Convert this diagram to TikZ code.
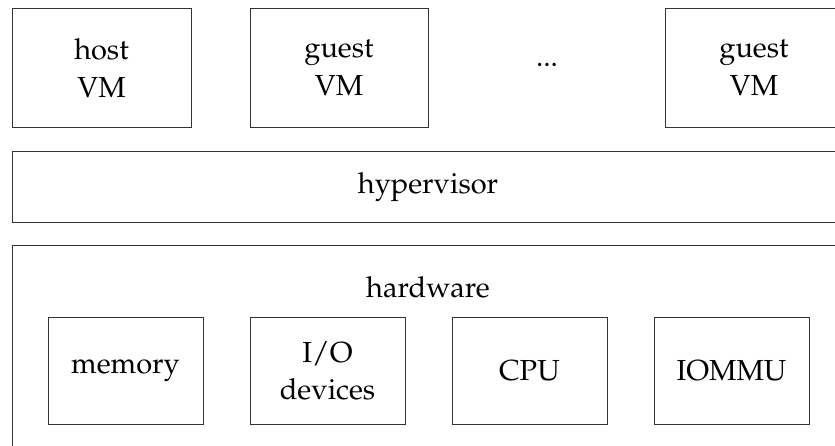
\documentclass[tikz,border=0pt]{standalone}
\usepackage[T1]{fontenc}
\usepackage{mathpazo}
\begin{document}
\begin{tikzpicture}[x=1pt,y=-1pt,
  box/.style={draw=black!80,line width=1pt,fill=none},
  lbl/.style={font=\fontsize{29}{37.5}\selectfont,align=center,inner sep=0pt}]
\useasboundingbox (0,0) rectangle (835,445);
% top VMs
\draw[box] (12.5,8) rectangle (191,127);
\node[lbl] (host) at (101.5,68) {host\\VM};
\draw[box] (250,8) rectangle (428,127);
\node[lbl] (guest1) at (339,68) {guest\\VM};
\node[lbl] (dots) at (547,65) {...};
\draw[box] (665,8) rectangle (843,127);
\node[lbl] (guest2) at (754,68) {guest\\VM};
% hypervisor
\draw[box] (12.5,151) rectangle (850,222);
\node[lbl] (hyp) at (428,187) {hypervisor};
% hardware
\draw[box] (12.5,245) rectangle (850,460);
\node[lbl] (hw) at (428,287) {hardware};
\draw[box] (48,317) rectangle (203,424);
\node[lbl] (mem) at (125.5,371) {memory};
\draw[box] (250,317) rectangle (405,424);
\node[lbl] (io) at (327.5,371) {I/O\\devices};
\draw[box] (452,317) rectangle (607,424);
\node[lbl] (cpu) at (529.5,371) {CPU};
\draw[box] (654,317) rectangle (809,424);
\node[lbl] (iommu) at (731.5,371) {IOMMU};
\end{tikzpicture}
\end{document}
